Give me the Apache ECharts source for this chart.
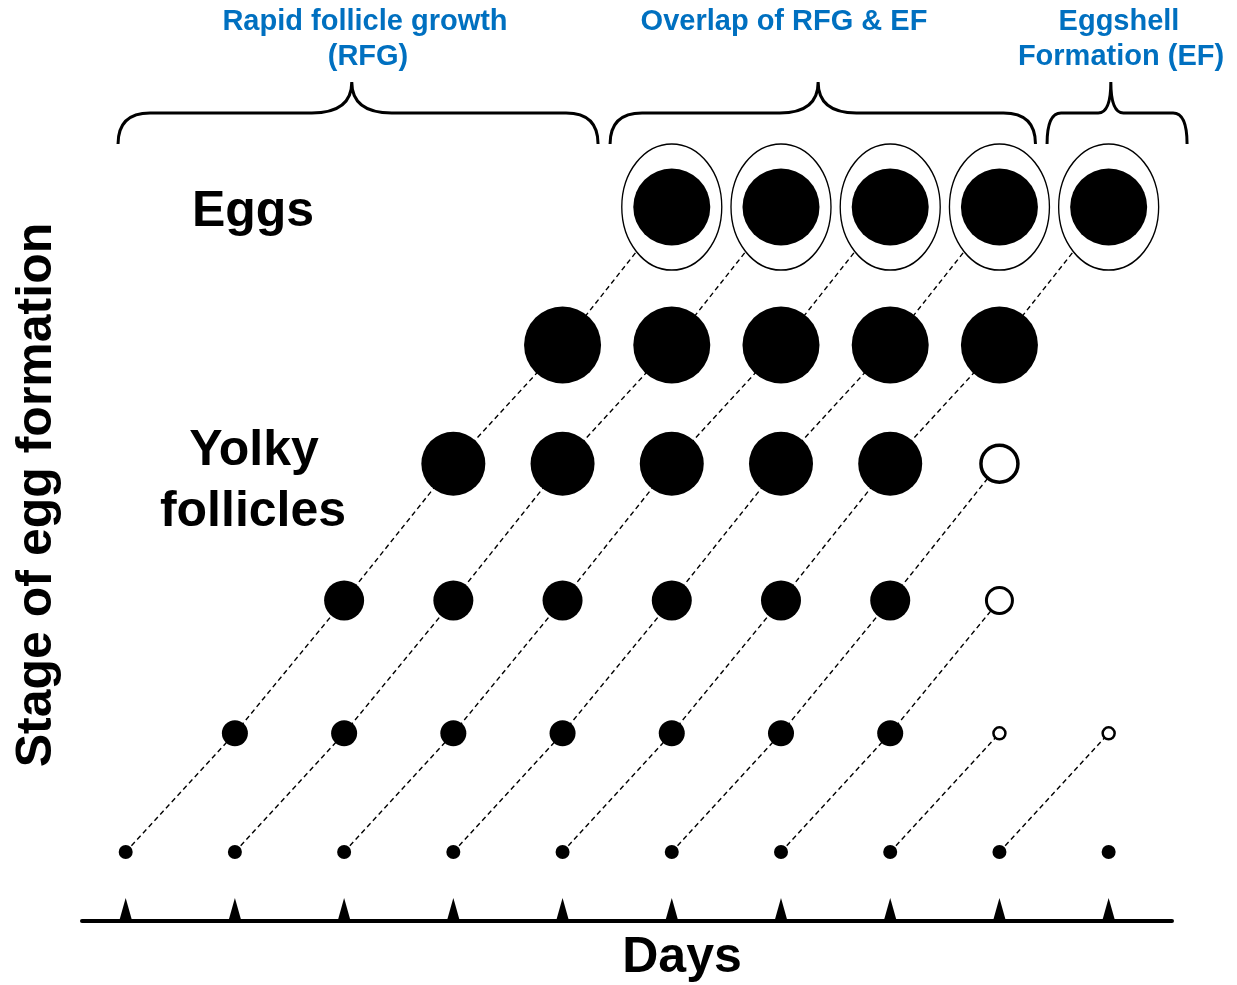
<!DOCTYPE html>
<html>
<head>
<meta charset="utf-8">
<script src="https://cdn.jsdelivr.net/npm/echarts@6/dist/echarts.min.js"></script>
<style>
html,body{margin:0;padding:0;background:#fff;}
#chart{width:1237px;height:985px;}
</style>
</head>
<body>
<div id="chart"></div>
<script>
// ---------- data ----------
const days = [1, 2, 3, 4, 5, 6, 7, 8, 9, 10];
// vertical level of each stage of egg formation
const stageLevels = [0, 0.92, 1.95, 3.01, 3.93, 5.0];
// 1 = yolky follicle present, 0 = open follicle, null = none
const stage0 = [1, 1, 1, 1, 1, 1, 1, 1, 1, 1];
const stage1 = [null, 1, 1, 1, 1, 1, 1, 1, 0, 0];
const stage2 = [null, null, 1, 1, 1, 1, 1, 1, 0, null];
const stage3 = [null, null, null, 1, 1, 1, 1, 1, 0, null];
const stage4 = [null, null, null, null, 1, 1, 1, 1, 1, null];
const eggs   = [null, null, null, null, null, 1, 1, 1, 1, 1];
// phase brackets (in days)
const phaseNames = ['Rapid follicle growth\n(RFG)', 'Overlap of RFG & EF', 'Eggshell\nFormation (EF)'];
const braceStart = [0.93, 5.435, 9.436];
const braceEnd   = [5.325, 9.33, 10.718];
const braceTip   = [3.07, 7.34, 10.02];

// ---------- build series ----------
const stages = [stage0, stage1, stage2, stage3, stage4];
const filledSizes = [14, 26, 40, 64, 77];
const openSizes = [12, 12, 26, 37, 40];
const openBorders = [2.5, 2.5, 3, 3.5, 3.5];
const Y_MIN = -0.535, Y_MAX = 5.6;

const series = [];

// dashed paths following each follicle through the stages
days.forEach((d, j) => {
  const path = [];
  for (let k = 0; k < 6; k++) {
    const arr = k < 5 ? stages[k] : eggs;
    const jj = j + k;
    if (jj < days.length && arr[jj] != null) path.push([days[jj], stageLevels[k]]);
    else break;
  }
  if (path.length > 1) {
    series.push({
      type: 'line', data: path, symbol: 'none', silent: true, z: 1,
      lineStyle: { color: '#000', width: 1.4, type: [5, 3.5] }
    });
  }
});

stages.forEach((arr, i) => {
  const filled = [], open = [];
  arr.forEach((v, j) => {
    if (v === 1) filled.push([days[j], stageLevels[i]]);
    else if (v === 0) open.push([days[j], stageLevels[i]]);
  });
  series.push({
    type: 'scatter', data: filled, symbol: 'circle', symbolSize: filledSizes[i], z: 3, silent: true,
    itemStyle: { color: '#000', opacity: 1 }
  });
  if (open.length) series.push({
    type: 'scatter', data: open, symbol: 'circle', symbolSize: openSizes[i], z: 3, silent: true,
    itemStyle: { color: '#fff', borderColor: '#000', borderWidth: openBorders[i], opacity: 1 }
  });
});

const eggData = [];
eggs.forEach((v, j) => { if (v === 1) eggData.push([days[j], stageLevels[5]]); });
series.push({
  type: 'scatter', data: eggData, symbol: 'circle', symbolSize: [100, 126], z: 4, silent: true,
  itemStyle: { color: '#fff', borderColor: '#000', borderWidth: 1.5, opacity: 1 }
});
series.push({
  type: 'scatter', data: eggData, symbol: 'circle', symbolSize: 77, z: 5, silent: true,
  itemStyle: { color: '#000', opacity: 1 }
});

// day markers on the axis
series.push({
  type: 'scatter', data: days.map(d => [d, Y_MIN]), symbol: 'triangle',
  symbolSize: [13, 23], symbolOffset: [0, -11.5], clip: false, z: 6, silent: true,
  itemStyle: { color: '#000', opacity: 1 }
});

// curly braces for phases
series.push({
  type: 'custom', silent: true, z: 6, clip: false,
  data: braceStart.map((s, i) => [s, braceEnd[i], braceTip[i]]),
  renderItem: function (params, api) {
    const footY = 5.488, barY = 5.729, peakY = 5.969;
    const p1 = api.coord([api.value(0), footY]);
    const p2 = api.coord([api.value(1), barY]);
    const pt = api.coord([api.value(2), peakY]);
    const x1 = p1[0], yF = p1[1], x2 = p2[0], yB = p2[1], xt = pt[0], yP = pt[1];
    const w = x2 - x1;
    const cw = Math.min(32, w * 0.1), tw = Math.min(40, w * 0.09);
    const d = 'M' + x1 + ' ' + yF + ' Q' + x1 + ' ' + yB + ' ' + (x1 + cw) + ' ' + yB +
      ' L' + (xt - tw) + ' ' + yB + ' Q' + xt + ' ' + yB + ' ' + xt + ' ' + yP +
      ' Q' + xt + ' ' + yB + ' ' + (xt + tw) + ' ' + yB +
      ' L' + (x2 - cw) + ' ' + yB + ' Q' + x2 + ' ' + yB + ' ' + x2 + ' ' + yF;
    return {
      type: 'path', shape: { pathData: d },
      style: { fill: 'none', stroke: '#000', lineWidth: 3 }
    };
  }
});

const FONT = '"Liberation Sans", Arial, sans-serif';
function txt(text, x, y, size, color, rot) {
  return {
    type: 'text', x: x, y: y, rotation: rot || 0, silent: true, z: 10,
    style: {
      text: text, fill: color, fontSize: size, fontWeight: 'bold', fontFamily: FONT,
      align: 'center', verticalAlign: 'middle', textAlign: 'center', textVerticalAlign: 'middle'
    }
  };
}
const blue = '#0070C0';
const phaseLines = phaseNames.map(s => s.split('\n'));

const chart = echarts.init(document.getElementById('chart'), null, { renderer: 'canvas' });
chart.setOption({
  animation: false,
  backgroundColor: '#fff',
  grid: { left: 82, right: 65, top: 129.6, bottom: 64 },
  xAxis: {
    type: 'value', min: 0.6, max: 10.58,
    axisLine: { show: true, onZero: false, lineStyle: { color: '#000', width: 4 } },
    axisTick: { show: false }, axisLabel: { show: false }, splitLine: { show: false }
  },
  yAxis: {
    type: 'value', min: Y_MIN, max: Y_MAX,
    axisLine: { show: false }, axisTick: { show: false }, axisLabel: { show: false }, splitLine: { show: false }
  },
  graphic: [
    txt(phaseLines[0][0], 365, 22, 29, blue),
    txt(phaseLines[0][1], 368, 57, 29, blue),
    txt(phaseLines[1][0], 784, 22, 29, blue),
    txt(phaseLines[2][0], 1119, 22, 29, blue),
    txt(phaseLines[2][1], 1121, 57, 29, blue),
    txt('Eggs', 253, 212, 50, '#000'),
    txt('Yolky', 254, 451, 50, '#000'),
    txt('follicles', 253, 512, 50, '#000'),
    txt('Days', 682, 958, 50, '#000'),
    txt('Stage of egg formation', 37, 495, 50, '#000', Math.PI / 2)
  ],
  series: series
});
</script>
</body>
</html>
